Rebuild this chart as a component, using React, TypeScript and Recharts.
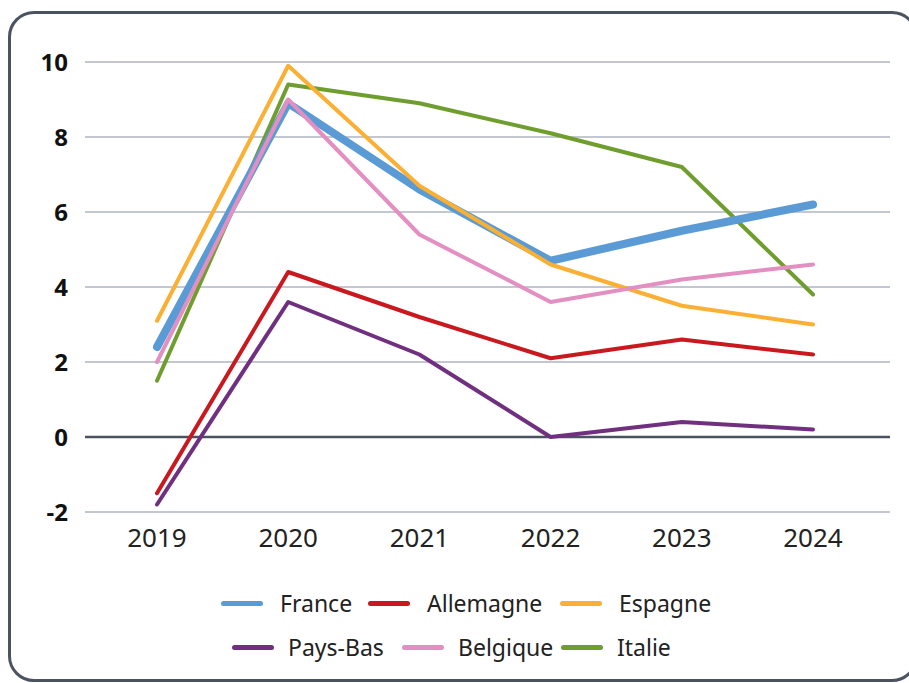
import { LineChart, Line, XAxis, YAxis, CartesianGrid, ReferenceLine } from "recharts";

const YEARS = ["2019", "2020", "2021", "2022", "2023", "2024"];
const Y_TICKS = [-2, 0, 2, 4, 6, 8, 10];

const FRANCE = [2.4, 8.9, 6.6, 4.7, 5.5, 6.2];
const ALLEMAGNE = [-1.5, 4.4, 3.2, 2.1, 2.6, 2.2];
const ESPAGNE = [3.1, 9.9, 6.7, 4.6, 3.5, 3.0];
const PAYS_BAS = [-1.8, 3.6, 2.2, 0.0, 0.4, 0.2];
const BELGIQUE = [2.0, 9.0, 5.4, 3.6, 4.2, 4.6];
const ITALIE = [1.5, 9.4, 8.9, 8.1, 7.2, 3.8];

// draw order matters: Italie under France, the rest above
const SERIES = [
  { key: "Italie", values: ITALIE, color: "#6f9e2f", width: 4 },
  { key: "France", values: FRANCE, color: "#5b9bd5", width: 8 },
  { key: "Allemagne", values: ALLEMAGNE, color: "#c9191f", width: 4 },
  { key: "Espagne", values: ESPAGNE, color: "#fbb034", width: 4 },
  { key: "Pays-Bas", values: PAYS_BAS, color: "#70307f", width: 4 },
  { key: "Belgique", values: BELGIQUE, color: "#e38fc1", width: 4 },
];

const LEGEND_ROWS = [
  ["France", "Allemagne", "Espagne"],
  ["Pays-Bas", "Belgique", "Italie"],
];
// legend item x offsets per row (layout only)
const LEGEND_X = [
  [221, 368, 560],
  [232, 402, 561],
];
const LEGEND_Y = [603, 647];

const FONT = "'Noto Sans', 'Open Sans', sans-serif";

export default function App() {
  const data = YEARS.map((year, i) => {
    const row: Record<string, string | number> = { year };
    SERIES.forEach((s) => (row[s.key] = s.values[i]));
    return row;
  });

  const colorOf = (k: string) => SERIES.find((s) => s.key === k)!.color;

  return (
    <div
      style={{
        position: "absolute",
        left: 0,
        top: 0,
        width: 909,
        height: 683,
        background: "#fff",
        fontFamily: FONT,
        overflow: "hidden",
      }}
    >
      {/* rounded frame */}
      <div
        style={{
          position: "absolute",
          left: 8,
          top: 11,
          width: 904,
          height: 665,
          border: "3px solid #4b5361",
          borderRadius: 26,
        }}
      />

      <LineChart
        width={909}
        height={683}
        data={data}
        margin={{ top: 62, right: 19, bottom: 131, left: 25 }}
        style={{ position: "absolute", left: 0, top: 0 }}
      >
        <CartesianGrid vertical={false} stroke="#c3c7d1" strokeWidth={2} />
        <XAxis
          dataKey="year"
          axisLine={false}
          tickLine={false}
          height={40}
          tickMargin={11}
          padding={{ left: 72, right: 77 }}
          tick={{ fill: "#222", fontSize: 26, fontFamily: FONT }}
        />
        <YAxis
          domain={[-2, 10]}
          ticks={Y_TICKS}
          axisLine={false}
          tickLine={false}
          tickSize={0}
          tickMargin={17}
          width={60}
          tick={{ fill: "#111", fontSize: 24, fontWeight: 700, fontFamily: FONT }}
        />
        <ReferenceLine y={0} stroke="#4b5361" strokeWidth={2.5} />
        {SERIES.map((s) => (
          <Line
            key={s.key}
            dataKey={s.key}
            stroke={s.color}
            strokeWidth={s.width}
            strokeLinecap="round"
            strokeLinejoin="round"
            dot={false}
            activeDot={false}
            isAnimationActive={false}
          />
        ))}
      </LineChart>

      {/* legend */}
      {LEGEND_ROWS.map((row, r) =>
        row.map((k, j) => (
          <div
            key={k}
            style={{
              position: "absolute",
              left: LEGEND_X[r][j],
              top: LEGEND_Y[r] - 16,
              height: 32,
              display: "flex",
              alignItems: "center",
              gap: r === 0 ? 17 : 14,
              fontSize: 23,
              color: "#222",
              whiteSpace: "nowrap",
            }}
          >
            <div
              style={{
                width: 42,
                height: 5,
                borderRadius: 3,
                background: colorOf(k),
              }}
            />
            <span>{k}</span>
          </div>
        ))
      )}
    </div>
  );
}
